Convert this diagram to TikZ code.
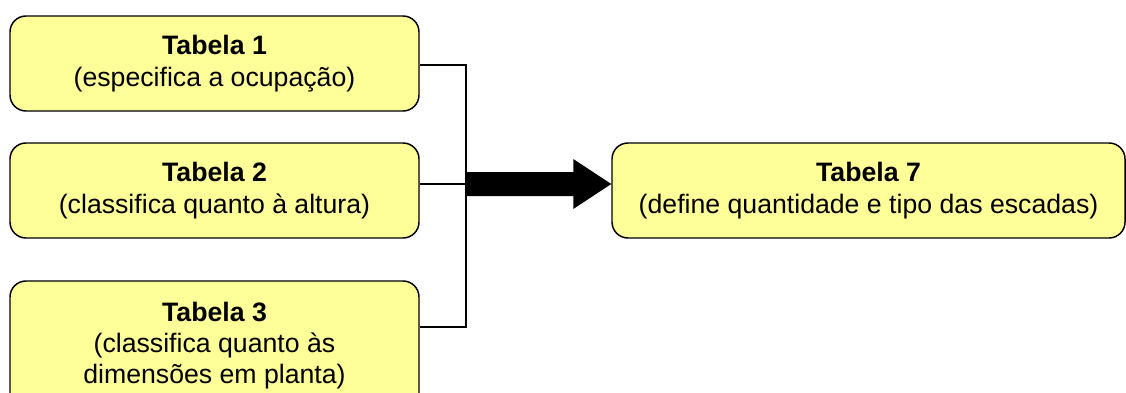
\documentclass[tikz,border=0pt]{standalone}
\usepackage{fontspec}
\setmainfont{Liberation Sans}
\usetikzlibrary{calc}
\definecolor{boxfill}{HTML}{FFFF99}
\tikzset{
  tbox/.style={draw=black, line width=1.1pt, fill=boxfill, rounded corners=12pt,
    align=center, inner sep=0pt, minimum width=306.75pt, minimum height=71.25pt,
    font=\fontsize{20}{23.5}\selectfont},
  conn/.style={draw=black, line width=1.5pt},
}
\begin{document}
\begin{tikzpicture}[x=0.75pt,y=-0.75pt]
\useasboundingbox (0,0) rectangle (1126,392);
\clip (0,0) rectangle (1126,392);
\node[tbox] (b1) at (214.5,63.5) {\textbf{Tabela 1}\\(especifica a ocupação)};
\node[tbox] (b2) at (214.5,190.5) {\textbf{Tabela 2}\\(classifica quanto à altura)};
\node[tbox, minimum height=96.75pt] (b3) at (214.5,345.5) {\textbf{Tabela 3}\\(classifica quanto às\\dimensões em planta)};
\node[tbox, minimum width=384.75pt] (b7) at (868.5,190.5) {\textbf{Tabela 7}\\(define quantidade e tipo das escadas)};
\coordinate (j1) at (466,65);
\coordinate (j2) at (466,184);
\coordinate (j3) at (466,327);
\draw[conn] (b1.east |- j1) -- (j1) -- (j3) -- (b3.east |- j3);
\draw[conn] (b2.east |- j2) -- (j2);
\coordinate (tip) at (b7.west |- j2);
\fill[black] ($(j2)+(0,-12)$) -- ($(tip)+(-38,-12)$) -- ($(tip)+(-38,-25)$) -- (tip)
  -- ($(tip)+(-38,25)$) -- ($(tip)+(-38,12)$) -- ($(j2)+(0,12)$) -- cycle;
\end{tikzpicture}
\end{document}
